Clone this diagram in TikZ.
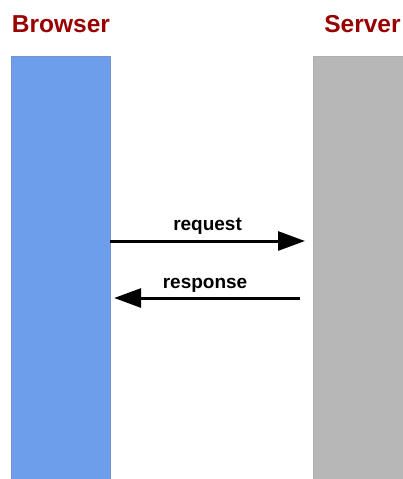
\documentclass[tikz,border=0pt]{standalone}
\usepackage{xcolor}
\usepackage{fontspec}
\setmainfont{Liberation Sans}
\usetikzlibrary{positioning, arrows.meta}

\definecolor{titlered}{HTML}{990000}
\definecolor{browserblue}{HTML}{6D9EEB}
\definecolor{servergray}{HTML}{B7B7B7}

\begin{document}
\begin{tikzpicture}[x=1pt, y=-1pt]

    \useasboundingbox (0,0) rectangle (403,479);

    \node[rectangle, inner sep=0pt,
    fill=browserblue, draw=browserblue!70!gray, line width=0.3pt,
    minimum height=423pt,
    minimum width=99pt] (browser) at (60.5,267.5) {};

    \node[rectangle, inner sep=0pt,
    fill=servergray, draw=servergray!95!black, line width=0.3pt,
    minimum height=423pt,
    minimum width=90pt] (server) at (358,267.5) {};

      \node[anchor=base, inner sep=0pt,
      text=titlered,
      font=\fontsize{24.5}{28}\selectfont\bfseries,
      ] (browsertxt) at (61,32) {Browser};

      \node[anchor=base, inner sep=0pt,
      text=titlered,
      font=\fontsize{24.5}{28}\selectfont\bfseries,
      ] (servertxt) at (362.5,32) {Server};

      \coordinate (reqend) at (305,241);
      \coordinate (respstart) at (300,298);

      \draw[-{Triangle[length=27pt, width=19pt]}, line width=3pt]
      (browser.east |- reqend)--(reqend)
      node[midway, above=1.5pt,
      font=\fontsize{19}{22}\selectfont\bfseries] (reqtxt) {request};

      \draw[-{Triangle[length=27pt, width=19pt]}, line width=3pt,
      shorten >=4pt]
      (respstart)--(browser.east |- respstart)
      node[midway, above=1pt,
      font=\fontsize{19}{22}\selectfont\bfseries] (resptxt) {response};
    \end{tikzpicture}
\end{document}
